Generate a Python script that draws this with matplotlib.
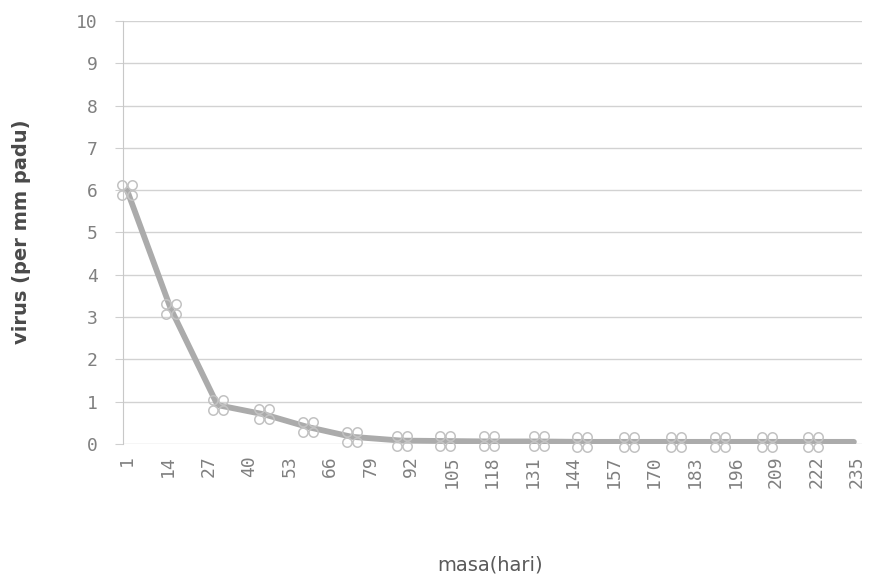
import matplotlib
matplotlib.use("Agg")
import matplotlib.pyplot as plt
from matplotlib.path import Path

# data
days = [1, 15, 30, 45, 59, 73, 89, 103, 117, 133, 147, 162, 177, 191, 206, 221, 234]
virus = [6.0, 3.2, 0.92, 0.7, 0.4, 0.17, 0.08, 0.07, 0.06, 0.06, 0.05, 0.05, 0.05, 0.05, 0.05, 0.05, 0.05]
marked = 16  # the last point is only the line's end
x_ticks = list(range(1, 236, 13))
y_ticks = list(range(0, 11))

# marker looks like four little open rings bunched together
rings = [Path.circle((dx, dy), 0.45) for dx in (-0.5, 0.5) for dy in (-0.5, 0.5)]
cluster = Path.make_compound_path(*rings)

fig = plt.figure(figsize=(8.76, 5.85), dpi=100)
ax = fig.add_axes([123 / 876, 1 - 444 / 585, (862 - 123) / 876, (444 - 21) / 585])

ax.plot(days, virus, color="#ababab", lw=4.2, solid_capstyle="round", zorder=3)
ax.plot(days[:marked], virus[:marked], ls="none", marker=cluster, ms=14,
        mfc="none", mec="#c2c2c2", mew=1.1, zorder=4, clip_on=False)

ax.set_xlim(-0.3, 236.6)
ax.set_ylim(0, 10)
ax.set_xticks(x_ticks)
ax.set_xticklabels([str(t) for t in x_ticks], rotation=90, family="DejaVu Sans Mono",
                   fontsize=13, color="#808080")
ax.set_yticks(y_ticks)
ax.set_yticklabels([str(t) for t in y_ticks], family="DejaVu Sans Mono",
                   fontsize=13, color="#808080")
ax.tick_params(axis="x", length=0, pad=8)
ax.tick_params(axis="y", length=6, color="#cfcfcf", pad=12)

ax.grid(axis="y", color="#d2d2d2", lw=1)
ax.set_axisbelow(True)
for side in ("top", "right", "bottom"):
    ax.spines[side].set_visible(False)
ax.spines["left"].set_color("#c8c8c8")

fig.text(22 / 876, 1 - 232 / 585, "virus (per mm padu)", rotation=90, ha="center",
         va="center", fontsize=14, fontweight="bold", color="#4a4a4a")
fig.text(490 / 876, 1 - 565 / 585, "masa(hari)", ha="center", va="center",
         fontsize=14, color="#5a5a5a")

fig.savefig("out.png", dpi=100, facecolor="white")
